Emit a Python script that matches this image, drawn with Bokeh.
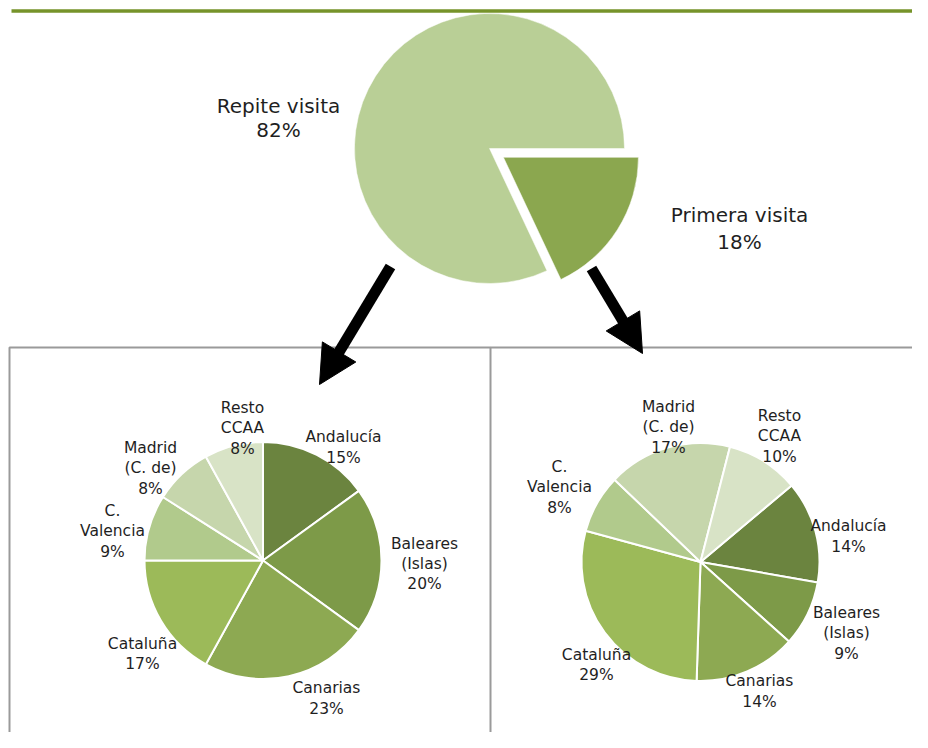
import numpy as np
from bokeh.plotting import figure
from bokeh.models import Range1d
from bokeh.embed import file_html
from bokeh.resources import INLINE
from bokeh.core.properties import value

# ---------------- data ----------------
visit_labels = ["Primera visita\n18%", "Repite visita\n82%"]
visit_pct = [18, 82]

regions = ["Andalucía", "Baleares\n(Islas)", "Canarias", "Cataluña",
           "C.\nValencia", "Madrid\n(C. de)", "Resto\nCCAA"]
repite_pct = [15, 20, 23, 17, 9, 8, 8]
primera_pct = [14, 9, 14, 29, 8, 17, 10]

# ---------------- styles / layout ----------------
visit_colors = ["#8BA74F", "#B9CF96"]
region_colors = ["#6B843F", "#7D9A48", "#8DA952", "#9CBA59",
                 "#B1CA8C", "#C6D6AC", "#D8E3C6"]
FONT = value("DejaVu Sans")
TXT = "#1f1f1f"

W, H = 912, 732


def Y(y):
    # screen (top-down) -> data (bottom-up)
    return H - np.asarray(y, dtype=float)


p = figure(width=W, height=H, x_range=Range1d(0, W), y_range=Range1d(0, H),
           output_backend="svg", toolbar_location=None, min_border=0,
           x_axis_location=None, y_axis_location=None)
p.grid.visible = False
p.outline_line_color = None
p.background_fill_color = "white"
p.border_fill_color = "white"

# header rule
p.line([11, 923], Y([10.5, 10.5]), line_color="#76932A", line_width=3.5)


def slice_angles(vals, start_cw):
    vals = np.asarray(vals, dtype=float)
    cum = np.concatenate([[0], np.cumsum(vals)]) / vals.sum() * 360.0 + start_cw
    s_cw, e_cw = cum[:-1], cum[1:]
    start = np.radians(90 - e_cw)
    end = np.radians(90 - s_cw)
    return start, end, (s_cw + e_cw) / 2


def pie(cx, cy, r, vals, start_cw, colors, explode=None, lw=2):
    start, end, mid = slice_angles(vals, start_cw)
    xs = np.full(len(vals), float(cx))
    ys = np.full(len(vals), float(Y(cy)))
    if explode is not None:
        for i, d in enumerate(explode):
            a = np.radians(90 - mid[i])
            xs[i] += d * np.cos(a)
            ys[i] += d * np.sin(a)
    p.wedge(x=xs, y=ys, radius=r, start_angle=start, end_angle=end,
            fill_color=colors, line_color="white", line_width=lw)


# top pie (first slice "Primera visita" starting at 90 deg, exploded)
pie(489, 148, 135, visit_pct, 90, visit_colors, explode=[16.5, 0], lw=0.5)

# bottom pies
pie(262.5, 560, 118.5, repite_pct, 0, region_colors)
pie(700, 561.5, 119, primera_pct, 50, region_colors)

# labels - top
p.text(x=[278], y=Y([117]), text=[visit_labels[1]], text_font=FONT,
       text_font_size="20px", text_align="center", text_baseline="middle",
       text_color=TXT, text_line_height=1.0)
p.text(x=[739], y=Y([228]), text=[visit_labels[0]], text_font=FONT,
       text_font_size="20px", text_align="center", text_baseline="middle",
       text_color=TXT, text_line_height=1.16)

# labels - bottom pies
left_lab_x = [343, 424, 326, 142, 112, 150, 242]
left_lab_y = [447, 563.5, 698, 653.5, 531, 468, 428]
right_lab_x = [848, 846, 759, 596, 559, 668, 779]
right_lab_y = [536, 633, 691, 664.5, 487, 427, 436]

left_txt = [f"{r}\n{v}%" for r, v in zip(regions, repite_pct)]
right_txt = [f"{r}\n{v}%" for r, v in zip(regions, primera_pct)]
for xs, ys, tx in [(left_lab_x, left_lab_y, left_txt), (right_lab_x, right_lab_y, right_txt)]:
    p.text(x=xs, y=Y(ys), text=tx, text_font=FONT, text_font_size="15.5px",
           text_align="center", text_baseline="middle", text_color=TXT,
           text_line_height=1.13)

# boxes
p.multi_line(xs=[[9, 9, 490, 490], [490, 935]],
             ys=[list(Y([760, 347, 347, 760])), list(Y([347, 347]))],
             line_color="#9A9A9A", line_width=2)


# arrows
def arrow(tail, tip, head_len=38, head_w=39, shaft=11):
    t = np.array([tail[0], Y(tail[1])], dtype=float)
    h = np.array([tip[0], Y(tip[1])], dtype=float)
    u = (h - t) / np.linalg.norm(h - t)
    n = np.array([-u[1], u[0]])
    b = h - head_len * u
    s_end = b + 2 * u
    p.line([t[0], s_end[0]], [t[1], s_end[1]], line_color="black",
           line_width=shaft, line_cap="butt")
    c1 = b + head_w / 2 * n
    c2 = b - head_w / 2 * n
    p.patch([h[0], c1[0], c2[0]], [h[1], c1[1], c2[1]], fill_color="black",
            line_color="black", line_width=1)


arrow((390, 266), (319, 384))
arrow((591, 268), (642, 353))

open("out.html", "w").write(file_html(p, INLINE))
